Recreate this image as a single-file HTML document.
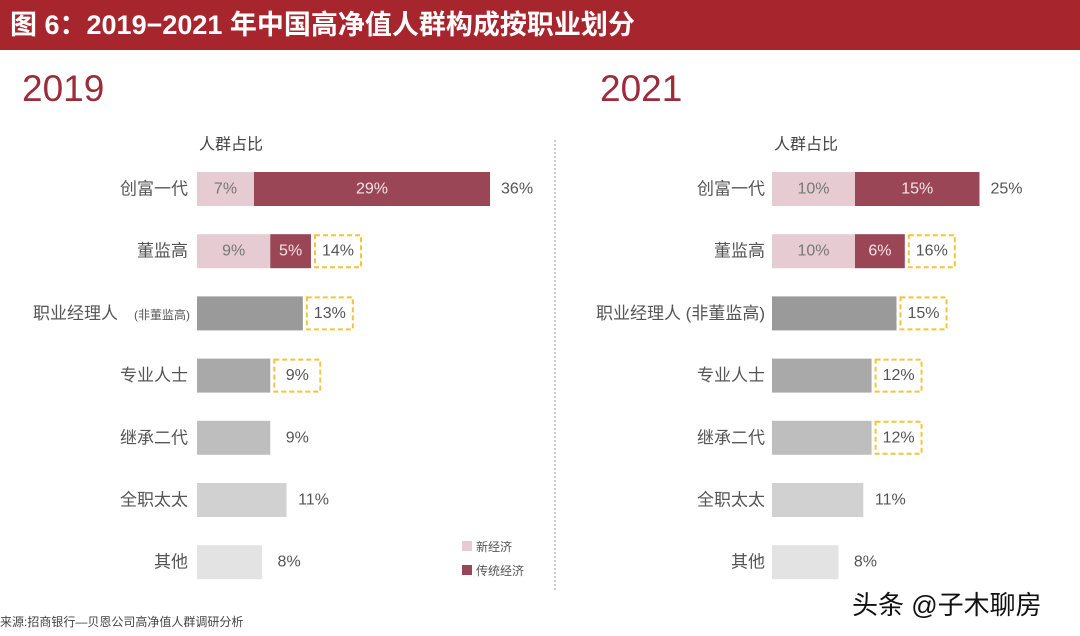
<!DOCTYPE html>
<html><head><meta charset="utf-8"><style>
body{margin:0;width:1080px;height:636px;background:#fff;overflow:hidden;font-family:"Liberation Sans","Noto Sans CJK SC",sans-serif;position:relative}
.hdr{position:absolute;left:0;top:0;width:1080px;height:50px;background:#a7252c;color:#fff;font-size:27px;line-height:50px;padding-left:10px;box-sizing:border-box;font-weight:bold}
.yr{position:absolute;top:68px;font-size:37px;color:#9b2d3a}
</style></head><body>
<div class="hdr">图 6：2019−2021 年中国高净值人群构成按职业划分</div>
<div class="yr" style="left:22px">2019</div>
<div class="yr" style="left:600px">2021</div>
<svg id="c" width="1080" height="636" style="position:absolute;left:0;top:0"></svg>
<script>
const categories=["创富一代","董监高","职业经理人","专业人士","继承二代","全职太太","其他"];
const newEcon2019=[7,9,0,0,0,0,0];
const tradEcon2019=[29,5,0,0,0,0,0];
const total2019=[36,14,13,9,9,11,8];
const newEcon2021=[10,10,0,0,0,0,0];
const tradEcon2021=[15,6,0,0,0,0,0];
const total2021=[25,16,15,12,12,11,8];
const highlight2019=[false,true,true,true,false,false,false];
const highlight2021=[false,true,true,true,true,false,false];
const grays=["#9a9a9a","#9a9a9a","#9a9a9a","#a9a9a9","#bebebe","#d1d1d1","#e3e3e3"];
const NS="http://www.w3.org/2000/svg",svg=document.getElementById('c');
function mk(t,a,p){const e=document.createElementNS(NS,t);for(const k in a)e.setAttribute(k,a[k]);(p||svg).appendChild(e);return e;}
function txt(x,y,s,o){const e=mk('text',Object.assign({x:x,y:y,'font-size':15,fill:'#555','dominant-baseline':'central','font-family':'"Liberation Sans","Noto Sans CJK SC",sans-serif'},o||{}));e.textContent=s;return e;}
function rowY(i){return 189+i*62.2;}
function draw(x0,k,nw,tr,tot,hl,labelRight,labels,pre){
  const t=txt(x0+2,145,"人群占比",{'font-size':16,fill:'#444'});
  
  categories.forEach((c,i)=>{
    const y=rowY(i),h=34;
    const l=txt(labelRight,y,labels[i],{'text-anchor':'end',fill:'#555','font-size':17});
    
    let end;
    if(nw[i]+tr[i]>0){
      const w1=nw[i]*k,w2=tr[i]*k;
      const r1=mk('rect',{x:x0,y:y-h/2,width:w1,height:h,fill:'#e6ccd2'});
      
      const r2=mk('rect',{x:x0+w1,y:y-h/2,width:w2,height:h,fill:'#9b4656'});
      
      txt(x0+w1/2,y,nw[i]+'%',{'text-anchor':'middle',fill:'#777','font-size':16});
      txt(x0+w1+w2/2,y,tr[i]+'%',{'text-anchor':'middle',fill:'#f4e4e8','font-size':16});
      end=x0+w1+w2;
    }else{
      const w=tot[i]*k;
      const r=mk('rect',{x:x0,y:y-h/2,width:w,height:h,fill:grays[i]});
      
      end=x0+w;
    }
    if(hl[i]){
      const b=mk('rect',{x:end+4,y:y-h/2+1,width:46,height:h-2,fill:'none',stroke:'#f2c43c','stroke-width':2,'stroke-dasharray':'5,3'});
      
    }
    const v=txt(end+27,y,tot[i]+'%',{'text-anchor':'middle',fill:'#555','font-size':16});
    
  });
}
const lab19=categories.slice();lab19[2]="职业经理人";
draw(197,8.14,newEcon2019,tradEcon2019,total2019,highlight2019,188,lab19,'y2019');
const sm=txt(190,315,"(非董监高)",{'text-anchor':'end','font-size':12,fill:'#555'});

svg.querySelectorAll('text').forEach(t=>{if(t.textContent==="职业经理人"&&+t.getAttribute('x')===188)t.setAttribute('x',118);});
const lab21=categories.slice();lab21[2]="职业经理人 (非董监高)";
draw(772,8.3,newEcon2021,tradEcon2021,total2021,highlight2021,765,lab21,'y2021');
const dv=mk('line',{x1:555,y1:140,x2:555,y2:590,stroke:'#999','stroke-dasharray':'2,2'});

const l1=mk('rect',{x:462,y:541,width:10,height:10,fill:'#e6ccd2'});

const l2=mk('rect',{x:462,y:565,width:10,height:10,fill:'#9b4656'});

const lt1=txt(476,547,"新经济",{'font-size':12});
const lt2=txt(476,571,"传统经济",{'font-size':12});
const src=txt(0,622,"来源:招商银行—贝恩公司高净值人群调研分析",{'font-size':12,fill:'#444'});

const wm=txt(852,605,"头条 @子木聊房",{'font-size':26,fill:'#111'});

</script>
</body></html>
